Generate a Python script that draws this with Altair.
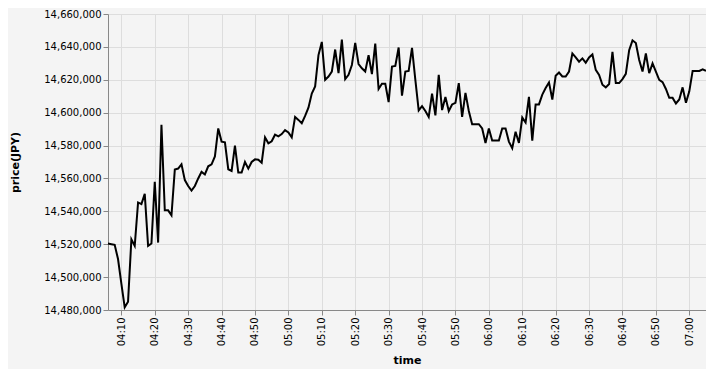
import altair as alt
import pandas as pd

start_time = "2021-01-01 04:06"

prices = [
    14520400, 14520000, 14519600, 14511000, 14496000, 14481600, 14485000, 14523000, 14519000, 14545400,
    14544400, 14550600, 14519000, 14520400, 14558000, 14521000, 14592600, 14540600, 14540600, 14537600,
    14565400, 14566000, 14568600, 14559000, 14555400, 14552600, 14555400, 14560000, 14564000, 14562400,
    14567400, 14568600, 14573400, 14590400, 14582400, 14582000, 14565600, 14564600, 14580000, 14563600,
    14563600, 14570000, 14566000, 14570000, 14571600, 14571400, 14569600, 14585000, 14581400, 14582600,
    14586600, 14585600, 14587000, 14589400, 14588000, 14585000, 14597400, 14595600, 14593600, 14598000,
    14603000, 14611600, 14616000, 14635000, 14643000, 14620000, 14622000, 14625000, 14638400, 14624000,
    14644400, 14620400, 14623000, 14629000, 14642400, 14629600, 14627000, 14625000, 14635000, 14623400,
    14642000, 14614400, 14617600, 14617600, 14606400, 14628000, 14628400, 14639600, 14610400, 14625000,
    14625400, 14639400, 14620000, 14601400, 14604000, 14601000, 14597400, 14611600, 14598400, 14623000,
    14601600, 14609600, 14601000, 14605000, 14606000, 14618000, 14597400, 14612000, 14601000, 14593000,
    14593000, 14593000, 14590400, 14581600, 14590400, 14583000, 14583000, 14583000, 14590400, 14590400,
    14582400, 14578400, 14588400, 14581600, 14597000, 14594000, 14609600, 14583000, 14605000, 14605000,
    14611000, 14615000, 14618400, 14608000, 14622400, 14624400, 14622000, 14622000, 14625000, 14636000,
    14633600, 14631000, 14633000, 14630400, 14633600, 14635400, 14626000, 14623000, 14617000, 14615400,
    14617400, 14637000, 14618000, 14618000, 14620400, 14623600, 14638000, 14644000, 14642400, 14632000,
    14625000, 14636000, 14624000, 14630000, 14625000, 14620000, 14618600, 14614400, 14609000, 14609000,
    14605600, 14608000, 14615400, 14606000, 14613000, 14625400, 14625400, 14625400, 14626400, 14625400,
]

y_ticks = [14480000, 14500000, 14520000, 14540000, 14560000, 14580000,
           14600000, 14620000, 14640000, 14660000]

x_tick_times = ["04:10", "04:20", "04:30", "04:40", "04:50", "05:00", "05:10", "05:20", "05:30",
                "05:40", "05:50", "06:00", "06:10", "06:20", "06:30", "06:40", "06:50", "07:00"]

times = pd.date_range(start_time, periods=len(prices), freq="min")
df = pd.DataFrame({"time": times.strftime("%Y-%m-%dT%H:%M:%S"), "price": prices})

x_values = [
    alt.DateTime(year=2021, month=1, date=1, hours=int(t[:2]), minutes=int(t[3:]))
    for t in x_tick_times
]

chart = (
    alt.Chart(df)
    .mark_line(color="black", strokeWidth=2)
    .encode(
        x=alt.X(
            "time:T",
            title="time",
            axis=alt.Axis(
                format="%H:%M",
                labelAngle=270,
                values=x_values,
                titlePadding=9,
            ),
        ),
        y=alt.Y(
            "price:Q",
            title="price(JPY)",
            scale=alt.Scale(domain=[y_ticks[0], y_ticks[-1]], zero=False),
            axis=alt.Axis(format=",.0f", values=y_ticks, titlePadding=23),
        ),
    )
    .properties(
        width=598,
        height=296,
        background="#f4f4f4",
        autosize=alt.AutoSizeParams(type="none"),
        padding={"left": 100, "top": 6, "right": 0, "bottom": 59},
    )
    .configure(font="DejaVu Sans")
    .configure_view(strokeWidth=0)
)

chart.save("out.html", embed_options={"renderer": "svg", "actions": False})
